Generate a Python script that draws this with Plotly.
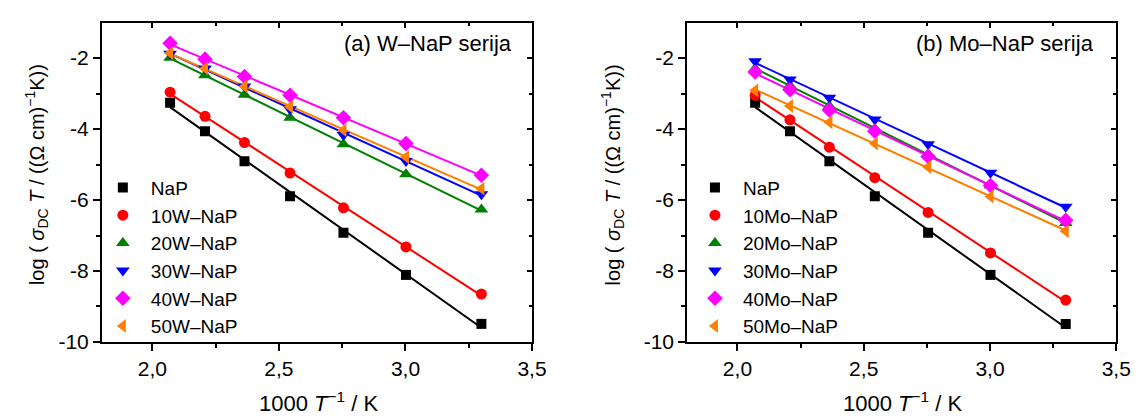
import numpy as np
import plotly.graph_objects as go

# ---- data ----
inv_T = [2.070, 2.208, 2.364, 2.544, 2.755, 3.002, 3.300]  # 1000/T (1/K)

w_labels = ["NaP", "10W–NaP", "20W–NaP", "30W–NaP", "40W–NaP", "50W–NaP"]
nap    = [-3.26, -4.06, -4.91, -5.89, -6.92, -8.11, -9.49]
w10    = [-2.96, -3.64, -4.38, -5.24, -6.22, -7.32, -8.65]
w20    = [-1.99, -2.48, -3.03, -3.68, -4.43, -5.27, -6.27]
w30    = [-1.88, -2.29, -2.80, -3.44, -4.17, -4.90, -5.84]
w40    = [-1.58, -2.03, -2.52, -3.05, -3.68, -4.41, -5.30]
w50    = [-1.86, -2.29, -2.80, -3.37, -4.03, -4.79, -5.68]

mo_labels = ["NaP", "10Mo–NaP", "20Mo–NaP", "30Mo–NaP", "40Mo–NaP", "50Mo–NaP"]
mo10   = [-3.05, -3.74, -4.51, -5.37, -6.35, -7.49, -8.82]
mo20   = [-2.29, -2.77, -3.35, -3.99, -4.72, -5.59, -6.65]
mo30   = [-2.09, -2.60, -3.12, -3.73, -4.43, -5.23, -6.19]
mo40   = [-2.39, -2.89, -3.46, -4.06, -4.77, -5.59, -6.57]
mo50   = [-2.91, -3.35, -3.81, -4.41, -5.07, -5.90, -6.88]

x_tickvals = [2.0, 2.5, 3.0, 3.5]
x_ticktext = ["2,0", "2,5", "3,0", "3,5"]
y_tickvals = [-10, -8, -6, -4, -2]
y_ticktext = ["-10", "-8", "-6", "-4", "-2"]

colors  = ["#000000", "#FF0000", "#008000", "#0000FF", "#FF00FF", "#FF8000"]
symbols = ["square", "circle", "triangle-up", "triangle-down", "diamond", "triangle-left"]
msizes  = [10, 11, 12, 12, 12, 12]

FONT = "Liberation Sans, Arial, sans-serif"

fig = go.Figure()

def add_panel(series, labels, xa, ya, legend):
    xs = np.array(inv_T)
    # fitted lines first
    for s, c in zip(series, colors):
        k, b = np.polyfit(xs, np.array(s), 1)
        xx = np.array([xs[0], xs[-1]])
        fig.add_trace(go.Scatter(x=xx, y=k * xx + b, mode="lines",
                                 line=dict(color=c, width=2),
                                 xaxis=xa, yaxis=ya, showlegend=False,
                                 hoverinfo="skip"))
    for s, lab, c, sym, ms in zip(series, labels, colors, symbols, msizes):
        fig.add_trace(go.Scatter(x=inv_T, y=s, mode="markers", name=lab,
                                 marker=dict(color=c, symbol=sym, size=ms,
                                             line=dict(width=0)),
                                 xaxis=xa, yaxis=ya, legend=legend))

add_panel([nap, w10, w20, w30, w40, w50], w_labels, "x", "y", "legend")
add_panel([nap, mo10, mo20, mo30, mo40, mo50], mo_labels, "x2", "y2", "legend2")

# invisible traces for mirrored (inside-tick) axes
fig.add_trace(go.Scatter(x=[2.0], y=[-5], mode="markers", marker=dict(opacity=0),
                         xaxis="x3", yaxis="y3", showlegend=False, hoverinfo="skip"))
fig.add_trace(go.Scatter(x=[2.0], y=[-5], mode="markers", marker=dict(opacity=0),
                         xaxis="x4", yaxis="y4", showlegend=False, hoverinfo="skip"))

W, H = 1141, 418
dom_x1 = [95 / W, 531 / W]
dom_x2 = [688 / W, 1123 / W]
dom_y = [(H - 343) / H, (H - 15) / H]

xr = [1.8, 3.5]
yr = [-10, -1]

def xaxis_main(dom, anchor):
    return dict(domain=dom, anchor=anchor, range=xr, tickvals=x_tickvals, ticktext=x_ticktext,
                ticks="outside", ticklen=7, tickwidth=1.5, tickcolor="black",
                showline=True, linecolor="black", linewidth=1.5, mirror=True,
                showgrid=False, zeroline=False,
                tickfont=dict(family=FONT, size=21, color="black"),
                minor=dict(tickvals=[2.25, 2.75, 3.25], ticks="outside", ticklen=4,
                           tickwidth=1.5, tickcolor="black", showgrid=False))

def yaxis_main(dom, anchor):
    return dict(domain=dom, anchor=anchor, range=yr, tickvals=y_tickvals, ticktext=y_ticktext,
                ticks="outside", ticklen=7, tickwidth=1.5, tickcolor="black",
                showline=True, linecolor="black", linewidth=1.5, mirror=True,
                showgrid=False, zeroline=False,
                tickfont=dict(family=FONT, size=21, color="black"),
                minor=dict(tickvals=[-9, -7, -5, -3], ticks="outside", ticklen=4,
                           tickwidth=1.5, tickcolor="black", showgrid=False))

def xaxis_mirror(over, anchor):
    return dict(overlaying=over, anchor=anchor, side="top", range=xr, tickvals=x_tickvals,
                ticks="inside", ticklen=5, tickwidth=1.5, tickcolor="black",
                showticklabels=False, showline=False, showgrid=False, zeroline=False,
                minor=dict(tickvals=[2.25, 2.75, 3.25], ticks="inside", ticklen=3,
                           tickwidth=1.5, tickcolor="black", showgrid=False))

def yaxis_mirror(over, anchor):
    return dict(overlaying=over, anchor=anchor, side="right", range=yr, tickvals=y_tickvals,
                ticks="inside", ticklen=5, tickwidth=1.5, tickcolor="black",
                showticklabels=False, showline=False, showgrid=False, zeroline=False,
                minor=dict(tickvals=[-9, -7, -5, -3], ticks="inside", ticklen=3,
                           tickwidth=1.5, tickcolor="black", showgrid=False))

legend_common = dict(font=dict(family=FONT, size=19, color="black"),
                     bgcolor="rgba(0,0,0,0)", borderwidth=0,
                     xanchor="left", yanchor="top", itemwidth=46,
                     tracegroupgap=0, itemclick=False)

ylab = "log ( <i>σ</i><sub>DC</sub> <i>T</i> / ((Ω cm)<sup>−1</sup>K))"
xlab = "1000 <i>T</i><sup>−1</sup> / K"

annotations = [
    dict(text="(a) W–NaP serija", x=513 / W, y=(H - 36) / H, xref="paper", yref="paper",
         xanchor="right", yanchor="middle", showarrow=False,
         font=dict(family=FONT, size=22, color="black")),
    dict(text="(b) Mo–NaP serija", x=1103 / W, y=(H - 36) / H, xref="paper", yref="paper",
         xanchor="right", yanchor="middle", showarrow=False,
         font=dict(family=FONT, size=22, color="black")),
    dict(text=ylab, x=29 / W, y=(H - 171) / H, xref="paper", yref="paper", textangle=-90,
         xanchor="center", yanchor="middle", showarrow=False,
         font=dict(family=FONT, size=20, color="black")),
    dict(text=ylab, x=613 / W, y=(H - 171) / H, xref="paper", yref="paper", textangle=-90,
         xanchor="center", yanchor="middle", showarrow=False,
         font=dict(family=FONT, size=20, color="black")),
    dict(text=xlab, x=315 / W, y=(H - 405) / H, xref="paper", yref="paper",
         xanchor="center", yanchor="middle", showarrow=False,
         font=dict(family=FONT, size=22, color="black")),
    dict(text=xlab, x=906 / W, y=(H - 405) / H, xref="paper", yref="paper",
         xanchor="center", yanchor="middle", showarrow=False,
         font=dict(family=FONT, size=22, color="black")),
]

fig.update_layout(
    width=W, height=H, margin=dict(l=0, r=0, t=0, b=0),
    paper_bgcolor="white", plot_bgcolor="white",
    font=dict(family=FONT, color="black"),
    xaxis=xaxis_main(dom_x1, "y"), yaxis=yaxis_main(dom_y, "x"),
    xaxis2=xaxis_main(dom_x2, "y2"), yaxis2=yaxis_main(dom_y, "x2"),
    xaxis3=xaxis_mirror("x", "y3"), yaxis3=yaxis_mirror("y", "x3"),
    xaxis4=xaxis_mirror("x2", "y4"), yaxis4=yaxis_mirror("y2", "x4"),
    legend=dict(x=88 / W, y=(H - 165) / H, **legend_common),
    legend2=dict(x=688 / W, y=(H - 165) / H, **legend_common),
    annotations=annotations,
    showlegend=True,
)

fig.write_html("out.html")
